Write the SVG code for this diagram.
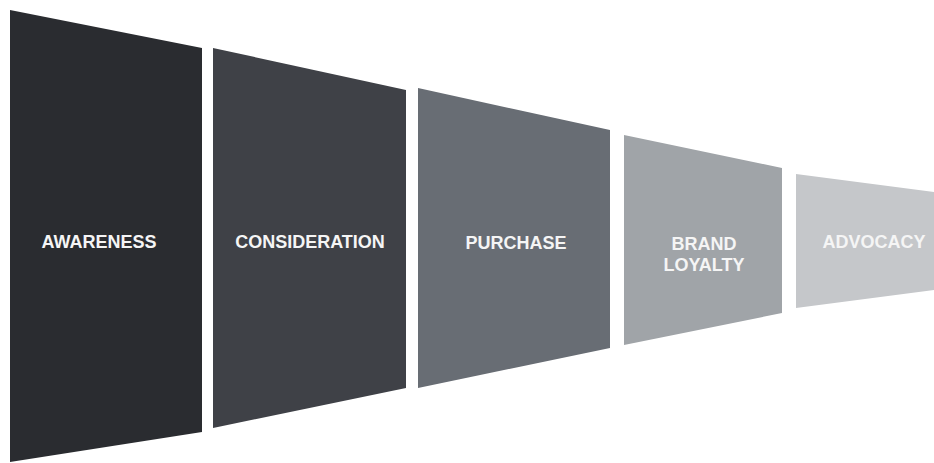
<svg xmlns="http://www.w3.org/2000/svg" width="934" height="463" viewBox="0 0 934 463">
<style>
.lbl{font-family:"Liberation Sans",Arial,sans-serif;font-weight:bold;font-size:18px;fill:#f5f5f5;text-anchor:middle}
</style>
<rect width="934" height="463" fill="#ffffff"/>
<g id="awareness">
<polygon points="10,10 202,48 202,432 10,462" fill="#2a2c30"/>
<text class="lbl" x="99" y="248">AWARENESS</text>
</g>
<g id="consideration">
<polygon points="213,48 406,90 406,388 213,428" fill="#3f4147"/>
<text class="lbl" x="310" y="248">CONSIDERATION</text>
</g>
<g id="purchase">
<polygon points="418,88 610,130 610,348 418,388" fill="#686d74"/>
<text class="lbl" x="516" y="249">PURCHASE</text>
</g>
<g id="brand-loyalty">
<polygon points="624,135 782,168 782,313 624,345" fill="#a0a4a8"/>
<text class="lbl" x="704" y="250">BRAND</text>
<text class="lbl" x="704" y="271">LOYALTY</text>
</g>
<g id="advocacy">
<polygon points="796,174 934,192 934,290 796,308" fill="#c5c7ca"/>
<text class="lbl" x="874" y="248">ADVOCACY</text>
</g>
<g id="connectors"></g>
</svg>
